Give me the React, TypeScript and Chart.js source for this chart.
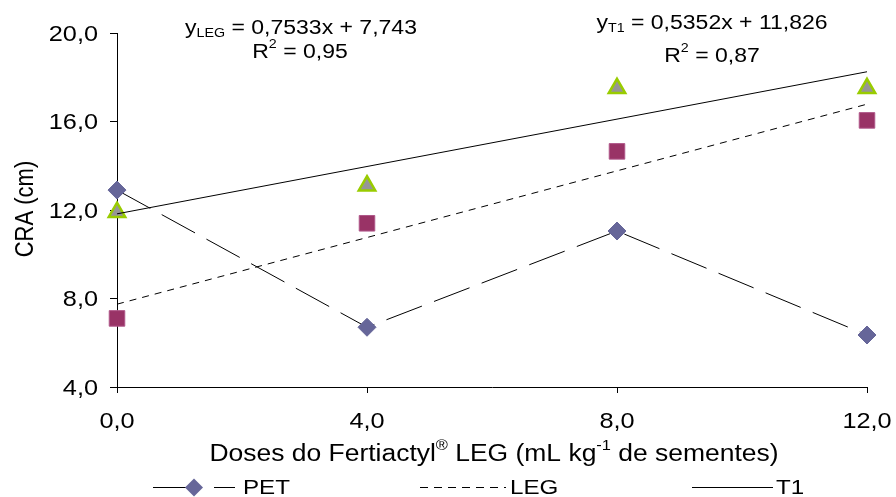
import React, { useEffect, useRef } from 'react';
import { Chart, registerables } from 'chart.js';

Chart.register(...registerables);

// ---- data ----
const doses = [0, 4, 8, 12];
const petValues = [12.9, 6.7, 11.05, 6.35];
const legValues = [7.1, 11.4, 14.65, 16.05];
const t1Values = [11.9, 13.1, 17.5, 17.5];
const trendX = [0, 12];
const legTrend = [7.743, 16.783];
const t1Trend = [11.826, 18.248];
const xTicks = [0, 4, 8, 12];
const yTicks = [4, 8, 12, 16, 20];
const seriesNames = ['PET', 'LEG', 'T1'];
const legEquation = ['y', 'LEG', ' = 0,7533x + 7,743'];
const legR2 = ['R', '2', ' = 0,95'];
const t1Equation = ['y', 'T1', ' = 0,5352x + 11,826'];
const t1R2 = ['R', '2', ' = 0,87'];
const xTitle = ['Doses do Fertiactyl', '®', ' LEG (mL kg', '-1', ' de sementes)'];
const yTitle = 'CRA (cm)';

const SX = 1.15;
const FONT = '"Liberation Sans", Arial, sans-serif';

type Part = { t: string; k?: 'sup' | 'sub' };

function drawRich(
  ctx: CanvasRenderingContext2D,
  parts: Part[],
  x: number,
  capY: number,
  size: number,
  align: 'left' | 'center' | 'right' = 'center',
  rotate = false
) {
  const small = size * 0.62;
  let w = 0;
  const ms = parts.map((p) => {
    ctx.font = `${p.k ? small : size}px ${FONT}`;
    const m = ctx.measureText(p.t).width;
    w += m;
    return m;
  });
  const start = align === 'center' ? -w / 2 : align === 'right' ? -w : 0;
  ctx.save();
  ctx.translate(x, capY);
  ctx.scale(SX, 1);
  if (rotate) ctx.rotate(-Math.PI / 2);
  ctx.textBaseline = 'alphabetic';
  ctx.textAlign = 'left';
  ctx.fillStyle = '#000';
  let cx = start;
  const base = 0.358 * size;
  parts.forEach((p, i) => {
    ctx.font = `${p.k ? small : size}px ${FONT}`;
    const dy = p.k === 'sup' ? -0.5 * size : p.k === 'sub' ? 0.12 * size : 0;
    ctx.fillText(p.t, cx, base + dy);
    cx += ms[i];
  });
  ctx.restore();
}

const fmt = (v: number) => v.toFixed(1).replace('.', ',');

const textPlugin = {
  id: 'textPlugin',
  afterDraw(chart: any) {
    const ctx: CanvasRenderingContext2D = chart.ctx;
    const xs = chart.scales.x;
    const ys = chart.scales.y;
    const area = chart.chartArea;
    // tick labels
    xTicks.forEach((v) => {
      drawRich(ctx, [{ t: fmt(v) }], xs.getPixelForValue(v), area.bottom + 33, 22, 'center');
    });
    yTicks.forEach((v) => {
      drawRich(ctx, [{ t: fmt(v) }], area.left - 19, ys.getPixelForValue(v), 22, 'right');
    });
    // axis titles
    drawRich(
      ctx,
      [
        { t: xTitle[0] },
        { t: xTitle[1], k: 'sup' },
        { t: xTitle[2] },
        { t: xTitle[3], k: 'sup' },
        { t: xTitle[4] },
      ],
      494,
      453,
      23,
      'center'
    );
    drawRich(ctx, [{ t: yTitle }], 24, 209, 22, 'center', true);
    // equations
    drawRich(ctx, [{ t: legEquation[0] }, { t: legEquation[1], k: 'sub' }, { t: legEquation[2] }], 301, 27, 20);
    drawRich(ctx, [{ t: legR2[0] }, { t: legR2[1], k: 'sup' }, { t: legR2[2] }], 300, 51, 20);
    drawRich(ctx, [{ t: t1Equation[0] }, { t: t1Equation[1], k: 'sub' }, { t: t1Equation[2] }], 712, 22, 20);
    drawRich(ctx, [{ t: t1R2[0] }, { t: t1R2[1], k: 'sup' }, { t: t1R2[2] }], 712, 55, 20);

    // legend
    const ly = 487.5;
    ctx.save();
    ctx.strokeStyle = '#000';
    ctx.lineWidth = 1;
    // PET
    ctx.beginPath();
    ctx.moveTo(153, ly);
    ctx.lineTo(186, ly);
    ctx.moveTo(214, ly);
    ctx.lineTo(235, ly);
    ctx.stroke();
    ctx.fillStyle = '#666699';
    ctx.beginPath();
    ctx.moveTo(194 - 9, ly);
    ctx.lineTo(194, ly - 9);
    ctx.lineTo(194 + 9, ly);
    ctx.lineTo(194, ly + 9);
    ctx.closePath();
    ctx.fill();
    // LEG
    ctx.setLineDash([8, 6]);
    ctx.beginPath();
    ctx.moveTo(420, ly);
    ctx.lineTo(506, ly);
    ctx.stroke();
    // T1
    ctx.setLineDash([]);
    ctx.beginPath();
    ctx.moveTo(692, ly);
    ctx.lineTo(773, ly);
    ctx.stroke();
    ctx.restore();
    drawRich(ctx, [{ t: seriesNames[0] }], 243, 486, 21, 'left');
    drawRich(ctx, [{ t: seriesNames[1] }], 510, 486, 21, 'left');
    drawRich(ctx, [{ t: seriesNames[2] }], 776, 486, 21, 'left');
  },
};

export default function App() {
  const ref = useRef<HTMLCanvasElement | null>(null);
  useEffect(() => {
    const canvas = ref.current;
    if (!canvas) return;
    const chart = new Chart(canvas, {
      type: 'scatter',
      data: {
        datasets: [
          {
            label: seriesNames[0],
            data: doses.map((x, i) => ({ x, y: petValues[i] })),
            showLine: true,
            borderColor: '#000',
            borderWidth: 1,
            borderDash: [38, 13],
            pointStyle: 'rectRot',
            pointRadius: 9,
            pointBackgroundColor: '#666699',
            pointBorderColor: '#666699',
            pointBorderWidth: 1,
            clip: false,
          } as any,
          {
            label: 'LEG trend',
            data: trendX.map((x, i) => ({ x, y: legTrend[i] })),
            showLine: true,
            borderColor: '#000',
            borderWidth: 1,
            borderDash: [7, 6],
            pointRadius: 0,
            clip: false,
          },
          {
            label: 'T1 trend',
            data: trendX.map((x, i) => ({ x, y: t1Trend[i] })),
            showLine: true,
            borderColor: '#000',
            borderWidth: 1,
            pointRadius: 0,
            clip: false,
          },
          {
            label: seriesNames[1],
            data: doses.map((x, i) => ({ x, y: legValues[i] })),
            showLine: false,
            pointStyle: 'rect',
            pointRadius: 11,
            pointBackgroundColor: '#993366',
            pointBorderColor: '#b0588a',
            pointBorderWidth: 1,
            clip: false,
          },
          {
            label: seriesNames[2],
            data: doses.map((x, i) => ({ x, y: t1Values[i] })),
            showLine: false,
            pointStyle: 'triangle',
            pointRadius: 9.5,
            pointBackgroundColor: '#969696',
            pointBorderColor: '#99cc00',
            pointBorderWidth: 2.5,
            clip: false,
          },
        ],
      },
      options: {
        animation: false,
        responsive: false,
        events: [],
        layout: { padding: { top: 33, right: 29, left: 0, bottom: 0 } },
        plugins: { legend: { display: false }, tooltip: { enabled: false }, title: { display: false } },
        scales: {
          x: {
            type: 'linear',
            min: 0,
            max: 12,
            afterBuildTicks: (s: any) => {
              s.ticks = xTicks.map((v) => ({ value: v }));
            },
            ticks: { display: false },
            grid: { drawOnChartArea: false, drawTicks: true, tickLength: 6, color: '#000', lineWidth: 1 },
            border: { color: '#000', width: 1 },
            afterFit: (s: any) => {
              s.height = 110;
            },
          },
          y: {
            type: 'linear',
            min: 4,
            max: 20,
            afterBuildTicks: (s: any) => {
              s.ticks = yTicks.map((v) => ({ value: v }));
            },
            ticks: { display: false },
            grid: { drawOnChartArea: false, drawTicks: true, tickLength: 7, color: '#000', lineWidth: 1 },
            border: { color: '#000', width: 1 },
            afterFit: (s: any) => {
              s.width = 117;
            },
          },
        },
      },
      plugins: [textPlugin],
    });
    return () => chart.destroy();
  }, []);
  return (
    <div style={{ position: 'absolute', left: 0, top: 0, width: 896, height: 497, background: '#fff' }}>
      <canvas ref={ref} width={896} height={497} style={{ width: 896, height: 497, display: 'block' }} />
    </div>
  );
}
